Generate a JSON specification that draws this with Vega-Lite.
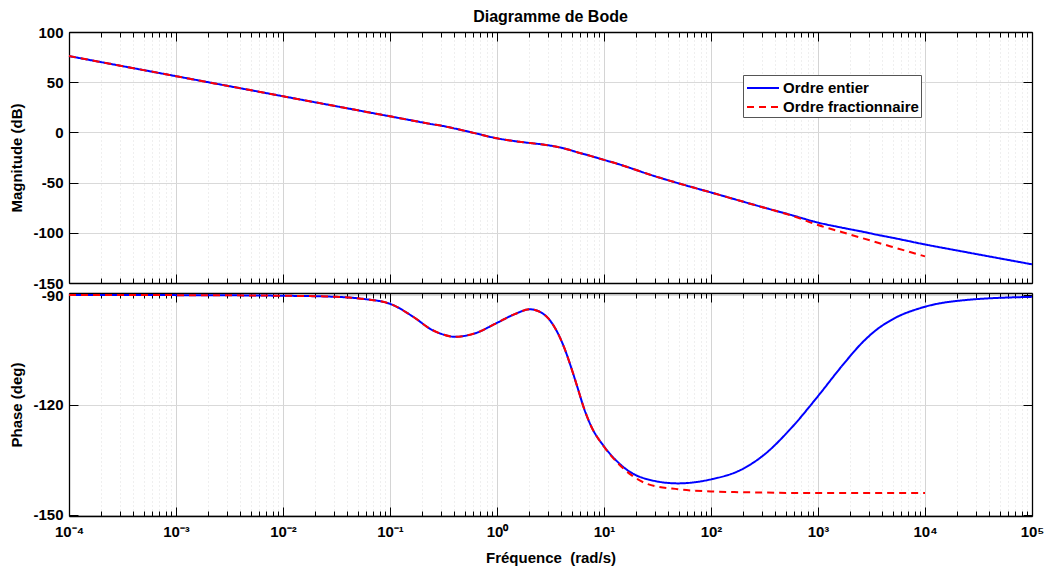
{
  "$schema": "https://vega.github.io/schema/vega-lite/v6.json",
  "padding": {"left": 9, "top": 9, "right": 5, "bottom": 5},
  "bounds": "flush",
  "config": {
    "font": "Liberation Sans",
    "view": {"stroke": null},
    "axis": {
      "labelFont": "Liberation Sans", "labelFontSize": 15, "labelFontWeight": "bold", "labelColor": "#000",
      "titleFont": "Liberation Sans", "titleFontSize": 15, "titleFontWeight": "bold", "titleColor": "#000",
      "domainColor": "#000", "domainWidth": 1.3, "tickColor": "#000", "tickWidth": 1,
      "labelFlush": false, "labelOverlap": false, "labelBound": false
    }
  },
  "data": {"values": [
    {"w": 0.0001, "mag": 76, "phase": -90.0, "s": "Ordre entier"},
    {"w": 0.001, "mag": 56, "phase": -90.03, "s": "Ordre entier"},
    {"w": 0.01, "mag": 36, "phase": -90.2, "s": "Ordre entier"},
    {"w": 0.03162, "mag": 26, "phase": -90.5, "s": "Ordre entier"},
    {"w": 0.05754, "mag": 20.8, "phase": -91.1, "s": "Ordre entier"},
    {"w": 0.1, "mag": 16, "phase": -92.4, "s": "Ordre entier"},
    {"w": 0.1698, "mag": 11.4, "phase": -96.2, "s": "Ordre entier"},
    {"w": 0.2399, "mag": 8.4, "phase": -99.3, "s": "Ordre entier"},
    {"w": 0.3162, "mag": 6.3, "phase": -100.8, "s": "Ordre entier"},
    {"w": 0.3981, "mag": 4.0, "phase": -101.4, "s": "Ordre entier"},
    {"w": 0.6166, "mag": -0.7, "phase": -100.5, "s": "Ordre entier"},
    {"w": 1, "mag": -5.9, "phase": -97.6, "s": "Ordre entier"},
    {"w": 1.4454, "mag": -8.6, "phase": -95.3, "s": "Ordre entier"},
    {"w": 2.0417, "mag": -10.6, "phase": -93.9, "s": "Ordre entier"},
    {"w": 2.7542, "mag": -12.2, "phase": -95.3, "s": "Ordre entier"},
    {"w": 3.7154, "mag": -14.6, "phase": -100.5, "s": "Ordre entier"},
    {"w": 4.2658, "mag": -16.0, "phase": -104.5, "s": "Ordre entier"},
    {"w": 4.8978, "mag": -17.8, "phase": -109.5, "s": "Ordre entier"},
    {"w": 5.6234, "mag": -19.8, "phase": -115.0, "s": "Ordre entier"},
    {"w": 6.6069, "mag": -21.8, "phase": -121.5, "s": "Ordre entier"},
    {"w": 7.5858, "mag": -23.6, "phase": -125.8, "s": "Ordre entier"},
    {"w": 10, "mag": -27.4, "phase": -131.3, "s": "Ordre entier"},
    {"w": 13.49, "mag": -31.4, "phase": -135.6, "s": "Ordre entier"},
    {"w": 17.783, "mag": -35.6, "phase": -138.4, "s": "Ordre entier"},
    {"w": 25.704, "mag": -41.4, "phase": -140.3, "s": "Ordre entier"},
    {"w": 48.978, "mag": -50.5, "phase": -141.4, "s": "Ordre entier"},
    {"w": 100, "mag": -59.8, "phase": -140.3, "s": "Ordre entier"},
    {"w": 190.55, "mag": -68.4, "phase": -137.7, "s": "Ordre entier"},
    {"w": 316.23, "mag": -75.0, "phase": -133.5, "s": "Ordre entier"},
    {"w": 562.34, "mag": -82.3, "phase": -126.3, "s": "Ordre entier"},
    {"w": 1000, "mag": -89.8, "phase": -117.6, "s": "Ordre entier"},
    {"w": 1659.6, "mag": -94.8, "phase": -109.5, "s": "Ordre entier"},
    {"w": 2691.5, "mag": -99.2, "phase": -102.5, "s": "Ordre entier"},
    {"w": 3548.1, "mag": -101.9, "phase": -99.4, "s": "Ordre entier"},
    {"w": 4786.3, "mag": -104.6, "phase": -96.9, "s": "Ordre entier"},
    {"w": 10000, "mag": -111.6, "phase": -93.2, "s": "Ordre entier"},
    {"w": 23442, "mag": -119.0, "phase": -91.4, "s": "Ordre entier"},
    {"w": 100000, "mag": -131.4, "phase": -90.5, "s": "Ordre entier"},
    {"w": 0.0001, "mag": 76, "phase": -90.0, "s": "Ordre fractionnaire"},
    {"w": 0.001, "mag": 56, "phase": -90.03, "s": "Ordre fractionnaire"},
    {"w": 0.01, "mag": 36, "phase": -90.2, "s": "Ordre fractionnaire"},
    {"w": 0.03162, "mag": 26, "phase": -90.5, "s": "Ordre fractionnaire"},
    {"w": 0.05754, "mag": 20.8, "phase": -91.1, "s": "Ordre fractionnaire"},
    {"w": 0.1, "mag": 16, "phase": -92.4, "s": "Ordre fractionnaire"},
    {"w": 0.1698, "mag": 11.4, "phase": -96.2, "s": "Ordre fractionnaire"},
    {"w": 0.2399, "mag": 8.4, "phase": -99.3, "s": "Ordre fractionnaire"},
    {"w": 0.3162, "mag": 6.3, "phase": -100.8, "s": "Ordre fractionnaire"},
    {"w": 0.3981, "mag": 4.0, "phase": -101.4, "s": "Ordre fractionnaire"},
    {"w": 0.6166, "mag": -0.7, "phase": -100.5, "s": "Ordre fractionnaire"},
    {"w": 1, "mag": -5.9, "phase": -97.6, "s": "Ordre fractionnaire"},
    {"w": 1.4454, "mag": -8.6, "phase": -95.3, "s": "Ordre fractionnaire"},
    {"w": 2.0417, "mag": -10.6, "phase": -93.9, "s": "Ordre fractionnaire"},
    {"w": 2.7542, "mag": -12.2, "phase": -95.3, "s": "Ordre fractionnaire"},
    {"w": 3.7154, "mag": -14.6, "phase": -100.5, "s": "Ordre fractionnaire"},
    {"w": 4.2658, "mag": -16.0, "phase": -104.5, "s": "Ordre fractionnaire"},
    {"w": 4.8978, "mag": -17.8, "phase": -109.5, "s": "Ordre fractionnaire"},
    {"w": 5.6234, "mag": -19.8, "phase": -115.0, "s": "Ordre fractionnaire"},
    {"w": 6.6069, "mag": -21.8, "phase": -121.5, "s": "Ordre fractionnaire"},
    {"w": 7.5858, "mag": -23.6, "phase": -125.8, "s": "Ordre fractionnaire"},
    {"w": 10, "mag": -27.4, "phase": -131.4, "s": "Ordre fractionnaire"},
    {"w": 13.49, "mag": -31.4, "phase": -135.9, "s": "Ordre fractionnaire"},
    {"w": 17.783, "mag": -35.6, "phase": -139.0, "s": "Ordre fractionnaire"},
    {"w": 25.704, "mag": -41.4, "phase": -141.6, "s": "Ordre fractionnaire"},
    {"w": 48.978, "mag": -50.5, "phase": -143.0, "s": "Ordre fractionnaire"},
    {"w": 100, "mag": -59.8, "phase": -143.6, "s": "Ordre fractionnaire"},
    {"w": 190.55, "mag": -68.4, "phase": -143.8, "s": "Ordre fractionnaire"},
    {"w": 316.23, "mag": -75.1, "phase": -143.9, "s": "Ordre fractionnaire"},
    {"w": 562.34, "mag": -82.7, "phase": -144.0, "s": "Ordre fractionnaire"},
    {"w": 1000, "mag": -92.3, "phase": -144.0, "s": "Ordre fractionnaire"},
    {"w": 1659.6, "mag": -99.2, "phase": -144.0, "s": "Ordre fractionnaire"},
    {"w": 2691.5, "mag": -105.8, "phase": -144.0, "s": "Ordre fractionnaire"},
    {"w": 4786.3, "mag": -113.6, "phase": -144.0, "s": "Ordre fractionnaire"},
    {"w": 10000, "mag": -123.5, "phase": -144.0, "s": "Ordre fractionnaire"}
  ]},
  "spacing": 10,
  "resolve": {"legend": {"color": "independent", "strokeDash": "independent"}},
  "vconcat": [
    {
      "width": 963, "height": 251,
      "title": {"text": "Diagramme de Bode", "font": "Liberation Sans", "fontSize": 16, "fontWeight": "bold", "color": "#000", "offset": 0, "anchor": "middle"},
      "resolve": {"axis": {"x": "independent", "y": "independent"}},
      "layer": [
        {
          "mark": {"type": "line", "strokeWidth": 2, "interpolate": "monotone"},
          "encoding": {
            "x": {"field": "w", "type": "quantitative", "scale": {"type": "log", "domain": [0.0001, 100000], "nice": false},
              "axis": {"orient": "bottom", "title": null, "labels": false,
                "values": [0.0001,0.0002,0.0003,0.0004,0.0005,0.0006,0.0007,0.0008,0.0009,0.001,0.002,0.003,0.004,0.005,0.006,0.007,0.008,0.009,0.01,0.02,0.03,0.04,0.05,0.06,0.07,0.08,0.09,0.1,0.2,0.3,0.4,0.5,0.6,0.7,0.8,0.9,1,2,3,4,5,6,7,8,9,10,20,30,40,50,60,70,80,90,100,200,300,400,500,600,700,800,900,1000,2000,3000,4000,5000,6000,7000,8000,9000,10000,20000,30000,40000,50000,60000,70000,80000,90000,100000],
                "tickSize": {"condition": {"test": "abs(log(datum.value)/LN10-round(log(datum.value)/LN10))<0.01", "value": -9}, "value": -5},
                "grid": true,
                "gridColor": {"condition": {"test": "abs(log(datum.value)/LN10-round(log(datum.value)/LN10))<0.01", "value": "#d4d4d4"}, "value": "#dedede"},
                "gridDash": {"condition": {"test": "abs(log(datum.value)/LN10-round(log(datum.value)/LN10))<0.01", "value": []}, "value": [1, 3]}
              }},
            "y": {"field": "mag", "type": "quantitative", "scale": {"domain": [-150, 100], "nice": false, "zero": false},
              "axis": {"orient": "left", "title": "Magnitude (dB)", "values": [-150, -100, -50, 0, 50, 100], "labelExpr": "'' + datum.value", "tickSize": -9, "labelPadding": 15, "titlePadding": 8, "grid": true, "gridColor": "#d9d9d9"}},
            "color": {"field": "s", "type": "nominal", "scale": {"domain": ["Ordre entier", "Ordre fractionnaire"], "range": ["#0000ff", "#ff0000"]},
              "legend": {"orient": "none", "legendX": 674, "legendY": 43, "title": null, "symbolType": "M-1.6,0H1.6", "symbolSize": 400, "symbolStrokeWidth": 2, "symbolOffset": 7, "labelFont": "Liberation Sans", "labelFontSize": 15, "labelFontWeight": "bold", "labelColor": "#000", "strokeColor": "#555", "fillColor": "#fff", "padding": 2, "rowPadding": 0, "labelOffset": 9}},
            "strokeDash": {"field": "s", "type": "nominal", "scale": {"domain": ["Ordre entier", "Ordre fractionnaire"], "range": [[1, 0], [7, 5]]},
              "legend": {"orient": "none", "legendX": 674, "legendY": 43, "title": null, "symbolType": "M-1.6,0H1.6", "symbolSize": 400, "symbolStrokeWidth": 2, "symbolOffset": 7, "labelFont": "Liberation Sans", "labelFontSize": 15, "labelFontWeight": "bold", "labelColor": "#000", "strokeColor": "#555", "fillColor": "#fff", "padding": 2, "rowPadding": 0, "labelOffset": 9}}
          }
        },
        {
          "mark": {"type": "line", "opacity": 0},
          "encoding": {
            "x": {"field": "w", "type": "quantitative",
              "axis": {"orient": "top", "title": null, "labels": false, "grid": false,
                "values": [0.0001,0.0002,0.0003,0.0004,0.0005,0.0006,0.0007,0.0008,0.0009,0.001,0.002,0.003,0.004,0.005,0.006,0.007,0.008,0.009,0.01,0.02,0.03,0.04,0.05,0.06,0.07,0.08,0.09,0.1,0.2,0.3,0.4,0.5,0.6,0.7,0.8,0.9,1,2,3,4,5,6,7,8,9,10,20,30,40,50,60,70,80,90,100,200,300,400,500,600,700,800,900,1000,2000,3000,4000,5000,6000,7000,8000,9000,10000,20000,30000,40000,50000,60000,70000,80000,90000,100000],
                "tickSize": {"condition": {"test": "abs(log(datum.value)/LN10-round(log(datum.value)/LN10))<0.01", "value": -9}, "value": -5}}},
            "y": {"field": "mag", "type": "quantitative",
              "axis": {"orient": "right", "title": null, "labels": false, "grid": false, "values": [-150, -100, -50, 0, 50, 100], "tickSize": -9}},
            "detail": {"field": "s"}
          }
        }
      ]
    },
    {
      "width": 963, "height": 223,
      "resolve": {"axis": {"x": "independent", "y": "independent"}},
      "layer": [
        {
          "mark": {"type": "line", "strokeWidth": 2, "interpolate": "monotone"},
          "encoding": {
            "x": {"field": "w", "type": "quantitative", "scale": {"type": "log", "domain": [0.0001, 100000], "nice": false},
              "axis": {"orient": "bottom", "title": "Fréquence\u00a0 (rad/s)", "titlePadding": 7, "labelPadding": 17,
                "values": [0.0001,0.0002,0.0003,0.0004,0.0005,0.0006,0.0007,0.0008,0.0009,0.001,0.002,0.003,0.004,0.005,0.006,0.007,0.008,0.009,0.01,0.02,0.03,0.04,0.05,0.06,0.07,0.08,0.09,0.1,0.2,0.3,0.4,0.5,0.6,0.7,0.8,0.9,1,2,3,4,5,6,7,8,9,10,20,30,40,50,60,70,80,90,100,200,300,400,500,600,700,800,900,1000,2000,3000,4000,5000,6000,7000,8000,9000,10000,20000,30000,40000,50000,60000,70000,80000,90000,100000],
                "labelExpr": "abs(log(datum.value)/LN10-round(log(datum.value)/LN10))<0.01 ? ['10⁻⁴','10⁻³','10⁻²','10⁻¹','10⁰','10¹','10²','10³','10⁴','10⁵'][round(log(datum.value)/LN10)+4] : ''",
                "tickSize": {"condition": {"test": "abs(log(datum.value)/LN10-round(log(datum.value)/LN10))<0.01", "value": -9}, "value": -5},
                "grid": true,
                "gridColor": {"condition": {"test": "abs(log(datum.value)/LN10-round(log(datum.value)/LN10))<0.01", "value": "#d4d4d4"}, "value": "#dedede"},
                "gridDash": {"condition": {"test": "abs(log(datum.value)/LN10-round(log(datum.value)/LN10))<0.01", "value": []}, "value": [1, 3]}
              }},
            "y": {"field": "phase", "type": "quantitative", "scale": {"domain": [-150.3, -89.45], "nice": false, "zero": false},
              "axis": {"orient": "left", "title": "Phase (deg)", "values": [-150, -120, -90], "labelExpr": "'' + datum.value", "tickSize": -9, "labelPadding": 15, "titlePadding": 8, "grid": true, "gridColor": "#d9d9d9"}},
            "color": {"field": "s", "type": "nominal", "scale": {"domain": ["Ordre entier", "Ordre fractionnaire"], "range": ["#0000ff", "#ff0000"]}, "legend": null},
            "strokeDash": {"field": "s", "type": "nominal", "scale": {"domain": ["Ordre entier", "Ordre fractionnaire"], "range": [[1, 0], [7, 5]]}, "legend": null}
          }
        },
        {
          "mark": {"type": "line", "opacity": 0},
          "encoding": {
            "x": {"field": "w", "type": "quantitative",
              "axis": {"orient": "top", "title": null, "labels": false, "grid": false,
                "values": [0.0001,0.0002,0.0003,0.0004,0.0005,0.0006,0.0007,0.0008,0.0009,0.001,0.002,0.003,0.004,0.005,0.006,0.007,0.008,0.009,0.01,0.02,0.03,0.04,0.05,0.06,0.07,0.08,0.09,0.1,0.2,0.3,0.4,0.5,0.6,0.7,0.8,0.9,1,2,3,4,5,6,7,8,9,10,20,30,40,50,60,70,80,90,100,200,300,400,500,600,700,800,900,1000,2000,3000,4000,5000,6000,7000,8000,9000,10000,20000,30000,40000,50000,60000,70000,80000,90000,100000],
                "tickSize": {"condition": {"test": "abs(log(datum.value)/LN10-round(log(datum.value)/LN10))<0.01", "value": -9}, "value": -5}}},
            "y": {"field": "phase", "type": "quantitative",
              "axis": {"orient": "right", "title": null, "labels": false, "grid": false, "values": [-150, -120, -90], "tickSize": -9}},
            "detail": {"field": "s"}
          }
        }
      ]
    }
  ]
}
